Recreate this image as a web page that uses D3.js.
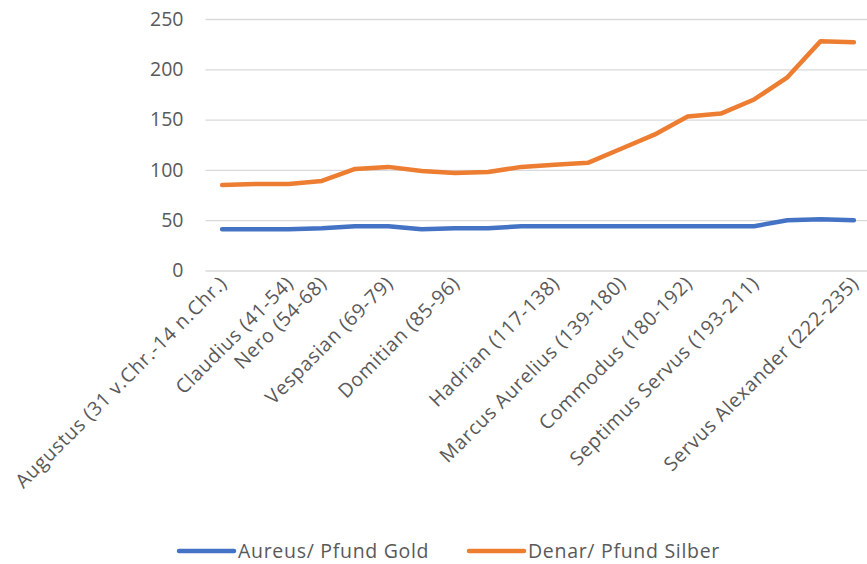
<!DOCTYPE html>
<html>
<head>
<meta charset="utf-8">
<script src="https://cdn.jsdelivr.net/npm/d3@7"></script>
<style>
  html, body { margin: 0; padding: 0; background: #fff; }
  svg { display: block; font-family: "Open Sans", Lato, sans-serif; }
</style>
</head>
<body>
<svg id="chart" width="867" height="564"></svg>
<script>
// Reigns along the x axis (blank entries are unlabelled periods)
const categories = [
  "Augustus (31 v.Chr.-14 n.Chr.)", "", "Claudius (41-54)", "Nero (54-68)", "",
  "Vespasian (69-79)", "", "Domitian (85-96)", "", "",
  "Hadrian (117-138)", "", "Marcus Aurelius (139-180)", "", "Commodus (180-192)",
  "", "Septimus Servus (193-211)", "", "", "Servus Alexander (222-235)"
];
const aureus = [41, 41, 41, 42, 44, 44, 41, 42, 42, 44, 44, 44, 44, 44, 44, 44, 44, 50, 51, 50];
const denar  = [85, 86, 86, 89, 101, 103, 99, 97, 98, 103, 105, 107, 121, 135, 153, 156, 170, 192, 228, 227];
const yTicks = [0, 50, 100, 150, 200, 250];
const seriesNames = ["Aureus/ Pfund Gold", "Denar/ Pfund Silber"];
const seriesColors = ["#4472C4", "#ED7D31"];

const font = "'Open Sans', Lato, sans-serif";
const fontSize = "19.5px";
const spacing = "0.7px";
const svg = d3.select("#chart");
const plot = { left: 205.5, right: 870.5, top: 19, bottom: 270.5 };

const x = d3.scaleBand().domain(d3.range(categories.length)).range([plot.left, plot.right]);
const y = d3.scaleLinear().domain([0, 250]).range([plot.bottom, plot.top]);

// Horizontal gridlines and value labels
const yAxis = svg.append("g")
  .attr("transform", `translate(${plot.left},0)`)
  .call(d3.axisLeft(y).tickValues(yTicks).tickSize(-(plot.right - plot.left)).tickPadding(22));
yAxis.select(".domain").remove();
yAxis.selectAll(".tick line").attr("stroke", "#D9D9D9").attr("stroke-width", 1.3);
yAxis.selectAll(".tick text")
  .attr("fill", "#595959").style("font-size", fontSize).style("font-family", font);

// Category labels, rotated
const xAxis = svg.append("g")
  .attr("transform", `translate(0,${plot.bottom})`)
  .call(d3.axisBottom(x).tickSize(0).tickFormat(i => categories[i]));
xAxis.select(".domain").remove();
xAxis.selectAll(".tick text")
  .attr("fill", "#595959").style("font-size", fontSize).style("font-family", font)
  .style("letter-spacing", spacing)
  .attr("text-anchor", "end")
  .attr("dy", null).attr("y", 0)
  .attr("transform", "translate(6,14) rotate(-45)");

// Series lines
const line = d3.line()
  .x((d, i) => x(i) + x.bandwidth() / 2)
  .y(d => y(d));

[aureus, denar].forEach((vals, k) => {
  svg.append("path")
    .datum(vals)
    .attr("d", line)
    .attr("fill", "none")
    .attr("stroke", seriesColors[k])
    .attr("stroke-width", 4.5)
    .attr("stroke-linejoin", "round")
    .attr("stroke-linecap", "round");
});

// Legend
const legendX = [179, 469];
const legend = svg.append("g");
seriesNames.forEach((name, k) => {
  const g = legend.append("g").attr("transform", `translate(${legendX[k]},551)`);
  g.append("line").attr("x1", 0).attr("x2", 55).attr("y1", 0).attr("y2", 0)
    .attr("stroke", seriesColors[k]).attr("stroke-width", 4.5).attr("stroke-linecap", "round");
  g.append("text").attr("x", 59).attr("y", 0).attr("dy", "0.35em")
    .attr("fill", "#595959").style("font-size", fontSize).style("font-family", font)
    .style("letter-spacing", spacing).text(name);
});
</script>
</body>
</html>
